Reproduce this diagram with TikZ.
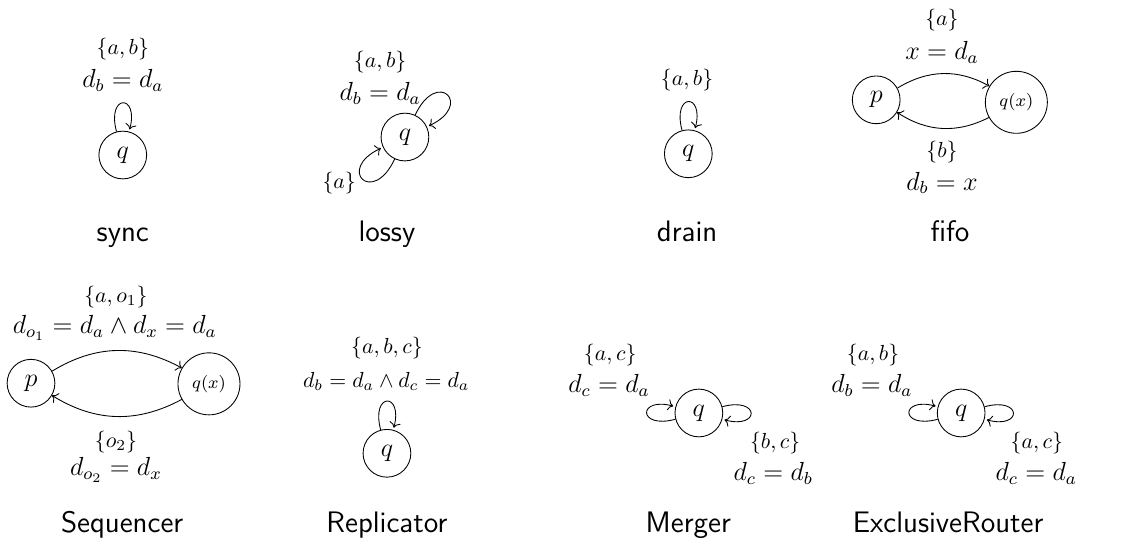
\documentclass[tikz,border=0pt]{standalone}
\usetikzlibrary{arrows.meta,positioning}
\tikzset{
  state/.style={circle,draw,minimum size=7.7mm,inner sep=0pt,font=\large},
  bigstate/.style={circle,draw,minimum size=10mm,inner sep=0pt,font=\footnotesize},
  guard/.style={font=\large},
  paneltitle/.style={anchor=base,font=\sffamily\fontsize{13.6}{16}\selectfont},
}
\begin{document}
\begin{tikzpicture}
  \useasboundingbox (0,0) rectangle (18.11,-8.76);
  % sync
  \node[state] (syncq) at (1.98,-2.50) {$q$};
  \path (syncq) edge[loop above] (syncq);
  \node (syncset) at (1.98,-0.79) {$\{a,b\}$};
  \node[guard] (synceq) at (1.98,-1.29) {$d_b = d_a$};
  \node[paneltitle] (synctitle) at (1.98,-3.89) {sync};

  % lossy
  \node[state] (lossyq) at (6.53,-2.21) {$q$};
  \path (lossyq) edge[out=65,in=25,loop] (lossyq)
        (lossyq) edge[out=245,in=205,loop] (lossyq);
  \node (lossyset) at (6.13,-1.0) {$\{a,b\}$};
  \node[guard] (lossyeq) at (6.13,-1.5) {$d_b = d_a$};
  \node (lossyset2) at (5.47,-2.95) {$\{a\}$};
  \node[paneltitle] (lossytitle) at (6.24,-3.89) {lossy};

  % drain
  \node[state] (drainq) at (11.10,-2.48) {$q$};
  \path (drainq) edge[loop above] (drainq);
  \node (drainset) at (11.08,-1.29) {$\{a,b\}$};
  \node[paneltitle] (draintitle) at (11.08,-3.89) {drain};

  % fifo
  \node[state] (fifop) at (14.13,-1.61) {$p$};
  \node[bigstate] (fifoq) at (16.39,-1.65) {$q(x)$};
  \path[->] (fifop) edge[bend left=30] (fifoq)
            (fifoq) edge[bend left=30] (fifop);
  \node (fifoset1) at (15.19,-0.32) {$\{a\}$};
  \node[guard] (fifoeq1) at (15.19,-0.84) {$x = d_a$};
  \node (fifoset2) at (15.19,-2.45) {$\{b\}$};
  \node[guard] (fifoeq2) at (15.19,-2.95) {$d_b = x$};
  \node[paneltitle] (fifotitle) at (15.32,-3.89) {fifo};

  % Sequencer
  \node[state] (seqp) at (0.50,-6.18) {$p$};
  \node[bigstate] (seqq) at (3.37,-6.19) {$q(x)$};
  \path[->] (seqp) edge[bend left=30] (seqq)
            (seqq) edge[bend left=30] (seqp);
  \node (seqset1) at (1.87,-4.79) {$\{a,o_1\}$};
  \node[guard] (seqeq1) at (1.85,-5.29) {$d_{o_1} = d_a \wedge d_x = d_a$};
  \node (seqset2) at (1.87,-7.13) {$\{o_2\}$};
  \node[guard] (seqeq2) at (1.87,-7.58) {$d_{o_2} = d_x$};
  \node[paneltitle] (seqtitle) at (1.97,-8.58) {Sequencer};

  % Replicator
  \node[state] (repq) at (6.24,-7.31) {$q$};
  \path (repq) edge[loop above] (repq);
  \node (repset) at (6.24,-5.61) {$\{a,b,c\}$};
  \node (repeq) at (6.23,-6.15) {$d_b = d_a \wedge d_c = d_a$};
  \node[paneltitle] (reptitle) at (6.24,-8.58) {Replicator};

  % Merger
  \node[state] (merq) at (11.27,-6.66) {$q$};
  \path (merq) edge[loop left] (merq)
        (merq) edge[loop right] (merq);
  \node (merset1) at (9.84,-5.73) {$\{a,c\}$};
  \node[guard] (mereq1) at (9.82,-6.21) {$d_c = d_a$};
  \node (merset2) at (12.50,-7.15) {$\{b,c\}$};
  \node[guard] (mereq2) at (12.47,-7.63) {$d_c = d_b$};
  \node[paneltitle] (mertitle) at (11.10,-8.58) {Merger};

  % ExclusiveRouter
  \node[state] (exq) at (15.50,-6.66) {$q$};
  \path (exq) edge[loop left] (exq)
        (exq) edge[loop right] (exq);
  \node (exset1) at (14.08,-5.73) {$\{a,b\}$};
  \node[guard] (exeq1) at (14.06,-6.21) {$d_b = d_a$};
  \node (exset2) at (16.72,-7.15) {$\{a,c\}$};
  \node[guard] (exeq2) at (16.71,-7.63) {$d_c = d_a$};
  \node[paneltitle] (extitle) at (15.29,-8.58) {ExclusiveRouter};
\end{tikzpicture}
\end{document}
